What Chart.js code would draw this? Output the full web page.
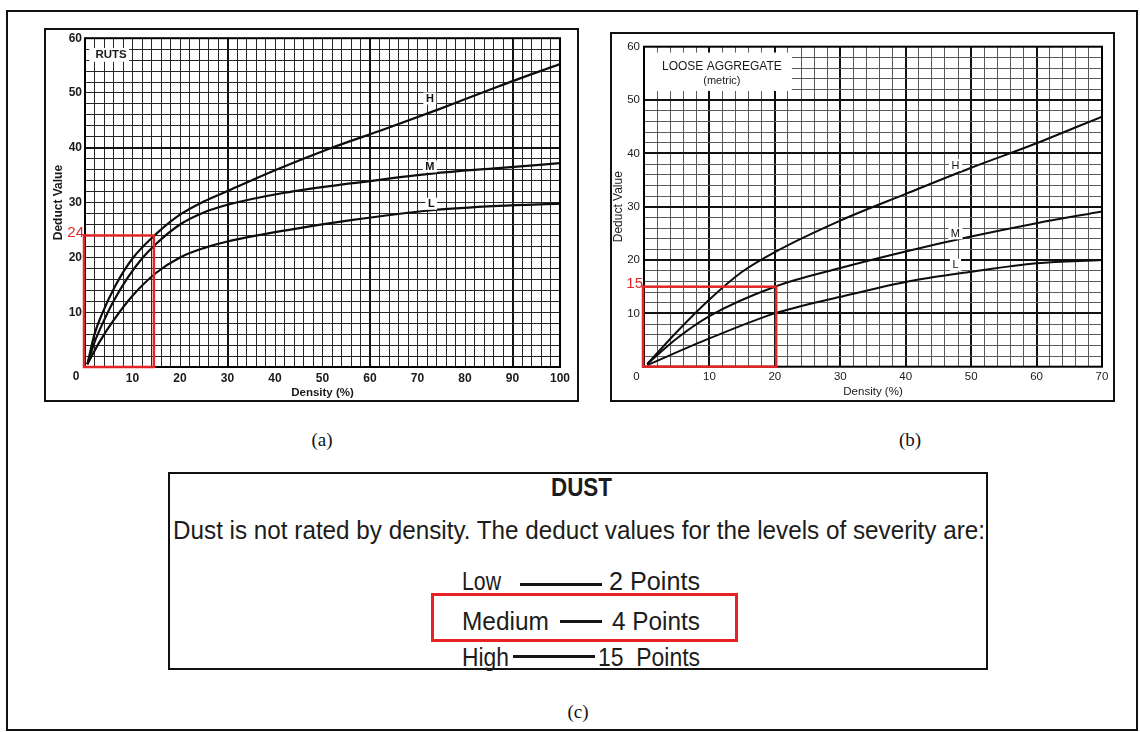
<!DOCTYPE html>
<html>
<head>
<meta charset="utf-8">
<script src="https://cdn.jsdelivr.net/npm/chart.js@4.4.1/dist/chart.umd.min.js"></script>
<style>
  body { margin: 0; width: 1140px; height: 732px; background: #fff; position: relative; overflow: hidden; font-family: "Liberation Sans", Arial, sans-serif; }
  .frame { position: absolute; box-sizing: border-box; border: 2px solid #111; }
  canvas { position: absolute; }
  .cap { position: absolute; font-family: "Liberation Serif", "Times New Roman", serif; font-size: 19px; color: #111; transform: translate(-50%, -50%); }
  .txt { position: absolute; white-space: pre; line-height: 1; color: #1c1c1c; transform-origin: 0 0; }
  .dash { position: absolute; background: #151515; }
</style>
</head>
<body>
<div class="frame" style="left:6px;top:10px;width:1132px;height:721px;border-width:2px"></div>

<div class="frame" style="left:44px;top:28px;width:535px;height:374px"></div>
<canvas id="ruts" width="535" height="374" style="left:44px;top:28px"></canvas>

<div class="frame" style="left:610px;top:32px;width:505px;height:370px"></div>
<canvas id="loose" width="505" height="370" style="left:610px;top:32px"></canvas>

<div class="cap" style="left:322px;top:440px">(a)</div>
<div class="cap" style="left:910px;top:440px">(b)</div>
<div class="cap" style="left:578px;top:712px">(c)</div>

<div class="frame" style="left:168px;top:472px;width:820px;height:198px;border-width:2.5px"></div>
<div class="txt" style="font-size:26px;font-weight:bold" data-l="551" data-w="61" data-cy="487">DUST</div>
<div class="txt" style="font-size:26px" data-l="173" data-w="812" data-cy="530">Dust is not rated by density. The deduct values for the levels of severity are:</div>
<div class="txt" style="font-size:26px" data-l="462" data-w="39" data-cy="581">Low</div>
<div class="dash" style="left:520px;top:583px;width:82px;height:3px"></div>
<div class="txt" style="font-size:26px" data-l="609" data-w="91" data-cy="581">2 Points</div>
<div class="txt" style="font-size:26px" data-l="462" data-w="87" data-cy="621">Medium</div>
<div class="dash" style="left:560px;top:620px;width:42px;height:3px"></div>
<div class="txt" style="font-size:26px" data-l="612" data-w="88" data-cy="621">4 Points</div>
<div class="txt" style="font-size:26px" data-l="462" data-w="47" data-cy="657">High</div>
<div class="dash" style="left:513px;top:655px;width:82px;height:3px"></div>
<div class="txt" style="font-size:26px" data-l="598" data-w="102" data-cy="657">15  Points</div>
<div class="frame" style="left:431px;top:593px;width:307px;height:49px;border:3px solid #e82222"></div>

<script>
const FONT = '"Liberation Sans", Arial, sans-serif'
const RED = '#e32626'

// (a) RUTS - density (%) vs deduct value
const rutsDensityH = [0.5, 2, 3.5, 6.5, 10, 15, 20, 25, 30, 40, 51, 63, 75, 87, 100]
const rutsDeductH = [0.5, 6, 9.5, 15, 19.8, 24.3, 27.8, 30.2, 32.1, 35.9, 39.7, 43.4, 47.2, 51.2, 55.3]
const rutsDensityM = [0.5, 2, 4, 6, 9, 12, 15, 20, 25, 30, 42, 56, 73, 87, 100]
const rutsDeductM = [0.5, 4.5, 8.5, 12, 16.3, 19.8, 22.5, 26, 28.2, 29.6, 31.8, 33.5, 35.3, 36.3, 37.2]
const rutsDensityL = [0.5, 3, 6, 10, 15, 20, 25, 30, 42, 56, 73, 87, 100]
const rutsDeductL = [0.5, 4.5, 8.5, 13, 17.2, 20, 21.7, 22.9, 24.9, 26.8, 28.6, 29.4, 29.8]
const rutsXTicks = [10, 20, 30, 40, 50, 60, 70, 80, 90, 100]
const rutsYTicks = [10, 20, 30, 40, 50, 60]

// (b) LOOSE AGGREGATE (metric)
const looseDensityH = [0.5, 5, 10, 15, 20, 30, 40, 50, 60, 70]
const looseDeductH = [0.5, 6.5, 12.6, 17.8, 21.5, 27.4, 32.4, 37.3, 41.9, 46.9]
const looseDensityM = [0.5, 5, 10, 20, 30, 40, 50, 60, 70]
const looseDeductM = [0.5, 5.3, 9.5, 15, 18.5, 21.6, 24.4, 26.9, 29.1]
const looseDensityL = [0.5, 10, 20, 30, 40, 50, 60, 70]
const looseDeductL = [0.3, 5.3, 10, 13.1, 15.9, 17.8, 19.4, 20.0]
const looseXTicks = [10, 20, 30, 40, 50, 60, 70]
const looseYTicks = [10, 20, 30, 40, 50, 60]

const severity = ['H', 'M', 'L']

const pts = (xs, ys) => xs.map((x, i) => ({x: x, y: ys[i]}))

function makeNotes(cfg) {
    return {
        id: 'notes',
        beforeDatasetsDraw(chart) {
            const {ctx, scales: {x, y}} = chart
            const b = cfg.titleBox
            const l = x.getPixelForValue(b.x[0]), r = x.getPixelForValue(b.x[1])
            const t = y.getPixelForValue(b.y[1]), btm = y.getPixelForValue(b.y[0])
            ctx.save()
            ctx.fillStyle = '#fff'
            ctx.fillRect(l, t, r - l, btm - t)
            ctx.fillStyle = '#1a1a1a'
            ctx.textAlign = 'center'
            ctx.textBaseline = 'middle'
            b.lines.forEach(line => {
                ctx.font = line.font
                ctx.fillText(line.text, x.getPixelForValue(line.x), y.getPixelForValue(line.y))
            })
            ctx.restore()
        },
        afterDatasetsDraw(chart) {
            const {ctx, chartArea: a, scales: {x, y}} = chart
            ctx.save()
            // H / M / L labels sitting on the curves
            ctx.font = cfg.curveFont
            ctx.textAlign = 'center'
            ctx.textBaseline = 'middle'
            severity.forEach((txt, i) => {
                const px = x.getPixelForValue(cfg.labelX[i]), py = y.getPixelForValue(cfg.labelY[i])
                const w = ctx.measureText(txt).width + 5
                ctx.fillStyle = '#fff'
                ctx.fillRect(px - w / 2, py - 6, w, 12)
                ctx.fillStyle = '#111'
                ctx.fillText(txt, px, py + 0.5)
            })
            // plot border
            ctx.strokeStyle = '#000'
            ctx.lineWidth = 2
            ctx.strokeRect(a.left, a.top, a.width, a.height)
            // corner zero
            ctx.font = cfg.tickFontCss
            ctx.fillStyle = '#1a1a1a'
            ctx.fillText('0', a.left - cfg.zeroShift, a.bottom + 10)
            // red highlight box
            const x0 = x.getPixelForValue(cfg.redBox.x[0]) - 1, x1 = x.getPixelForValue(cfg.redBox.x[1])
            const y0 = y.getPixelForValue(cfg.redBox.y[0]), y1 = y.getPixelForValue(cfg.redBox.y[1])
            ctx.strokeStyle = RED
            ctx.lineWidth = 2.5
            ctx.strokeRect(x0, y1, x1 - x0, y0 - y1)
            ctx.font = '15px ' + FONT
            ctx.fillStyle = RED
            ctx.textAlign = 'right'
            ctx.fillText(cfg.redText, a.left - 1, y1 - 3)
            ctx.restore()
        }
    }
}

function buildChart(id, cfg) {
    const tickFont = {family: FONT, size: cfg.tickSize, weight: cfg.weight}
    const titleFont = {family: FONT, size: 11.5, weight: cfg.weight}
    const gridOpts = heavy => ({
        drawTicks: false,
        color: c => (c.tick && heavy(Math.round(c.tick.value))) ? '#111' : cfg.gridColor,
        lineWidth: c => (c.tick && heavy(Math.round(c.tick.value))) ? 2 : 1,
    })
    return new Chart(document.getElementById(id), {
        type: 'line',
        data: {
            datasets: cfg.series.map(s => ({
                data: pts(s[0], s[1]),
                borderColor: '#0d0d0d',
                borderWidth: cfg.lineWidth,
                pointRadius: 0,
                cubicInterpolationMode: 'monotone',
                fill: false,
            }))
        },
        options: {
            responsive: false,
            animation: false,
            devicePixelRatio: 1,
            layout: {padding: cfg.padding},
            plugins: {legend: {display: false}, tooltip: {enabled: false}},
            scales: {
                x: {
                    type: 'linear', min: 0, max: cfg.xMax,
                    afterFit: s => { s.height = cfg.xAxisHeight },
                    border: {display: false},
                    grid: gridOpts(cfg.heavyX),
                    ticks: {
                        stepSize: 2, autoSkip: false, maxRotation: 0, padding: cfg.xTickPad,
                        color: '#1a1a1a', font: tickFont,
                        callback: v => cfg.xTicks.includes(Math.round(v)) ? String(Math.round(v)) : '',
                    },
                    title: {display: true, text: 'Density (%)', color: '#1a1a1a', font: titleFont, padding: {top: 0, bottom: cfg.xTitlePad}},
                },
                y: {
                    min: 0, max: 60,
                    afterFit: s => { s.width = cfg.yAxisWidth },
                    border: {display: false},
                    grid: gridOpts(cfg.heavyY),
                    ticks: {
                        stepSize: 2, autoSkip: false, padding: cfg.yTickPad,
                        color: '#1a1a1a', font: tickFont,
                        callback: v => cfg.yTicks.includes(Math.round(v)) ? String(Math.round(v)) : '',
                    },
                    title: {display: true, text: 'Deduct Value', color: '#1a1a1a', font: {family: FONT, size: 12, weight: cfg.weight}, padding: {top: cfg.yTitlePad, bottom: 0}},
                },
            },
        },
        plugins: [makeNotes(cfg)],
    })
}

buildChart('ruts', {
    series: [[rutsDensityH, rutsDeductH], [rutsDensityM, rutsDeductM], [rutsDensityL, rutsDeductL]],
    xMax: 100, xTicks: rutsXTicks, yTicks: rutsYTicks,
    heavyX: v => v > 0 && v < 100 && v % 30 === 0,
    heavyY: v => v === 40,
    gridColor: '#262626', lineWidth: 2.2,
    tickSize: 12, weight: 'bold', tickFontCss: 'bold 12px ' + FONT,
    padding: {top: 10, right: 19, left: 0, bottom: 0},
    xAxisHeight: 35, yAxisWidth: 41, xTickPad: 4, yTickPad: 3, xTitlePad: 2, yTitlePad: 7,
    zeroShift: 9,
    curveFont: 'bold 11px ' + FONT,
    labelX: [72.6, 72.6, 72.9], labelY: [49, 36.6, 29.8],
    titleBox: {x: [0.9, 9.3], y: [55.7, 58.2], lines: [{text: 'RUTS', x: 5.5, y: 56.9, font: 'bold 11.5px ' + FONT}]},
    redBox: {x: [0, 14.5], y: [0, 24]}, redText: '24',
})

buildChart('loose', {
    series: [[looseDensityH, looseDeductH], [looseDensityM, looseDeductM], [looseDensityL, looseDeductL]],
    xMax: 70, xTicks: looseXTicks, yTicks: looseYTicks,
    heavyX: v => v > 0 && v < 70 && v % 10 === 0,
    heavyY: v => v > 0 && v < 60 && v % 10 === 0,
    gridColor: '#5a5a5a', lineWidth: 2,
    tickSize: 11.5, weight: 'normal', tickFontCss: '11.5px ' + FONT,
    padding: {top: 14.7, right: 13, left: 0, bottom: 0},
    xAxisHeight: 35.3, yAxisWidth: 34, xTickPad: 3, yTickPad: 4, xTitlePad: 3.5, yTitlePad: 1,
    zeroShift: 7.5,
    curveFont: '11px ' + FONT,
    labelX: [47.6, 47.6, 47.6], labelY: [37.8, 25, 19.1],
    titleBox: {x: [0, 22.6], y: [51.7, 58.9], lines: [
        {text: 'LOOSE AGGREGATE', x: 11.9, y: 56.3, font: '12px ' + FONT},
        {text: '(metric)', x: 11.9, y: 53.5, font: '11px ' + FONT},
    ]},
    redBox: {x: [0, 20.2], y: [0, 15]}, redText: '15',
})

// panel (c): squeeze each text run to its width in the picture
document.querySelectorAll('.txt').forEach(el => {
    const f = parseFloat(el.style.fontSize)
    el.style.left = el.dataset.l + 'px'
    el.style.top = (+el.dataset.cy - 0.488 * f) + 'px'
    const w = el.getBoundingClientRect().width
    el.style.transform = 'scaleX(' + (+el.dataset.w / w) + ')'
})
</script>
</body>
</html>
